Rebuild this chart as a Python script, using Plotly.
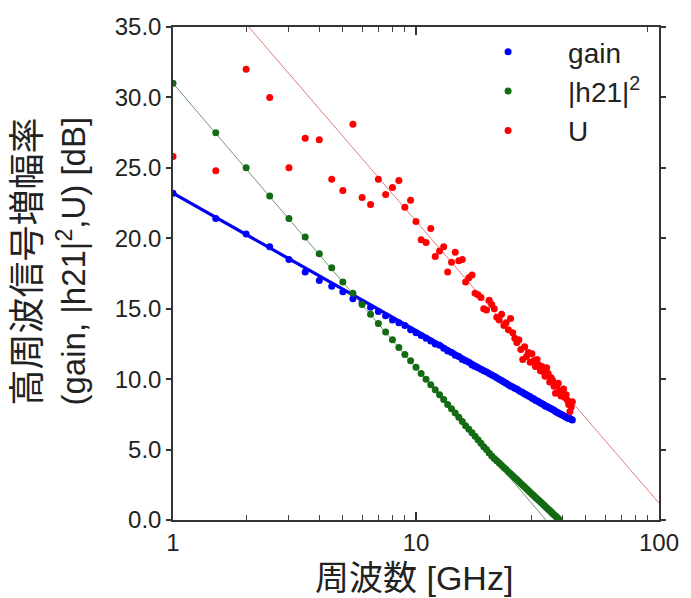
import math
import plotly.graph_objects as go

# Frequencies [GHz] (0.5 GHz steps, 1 .. 44 GHz)
freq = [1 + 0.5 * i for i in range(87)]

gain = [23.2, 21.4, 20.3, 19.4, 18.5, 17.6, 17.0, 16.6, 16.2, 15.7,
        15.4, 15.1, 14.8, 14.5, 14.2, 14.0, 13.8, 13.5, 13.3, 13.1,
        12.9, 12.7, 12.5, 12.4, 12.2, 12.0, 11.9, 11.7, 11.6, 11.4,
        11.3, 11.2, 11.0, 10.9, 10.8, 10.7, 10.6, 10.5, 10.4, 10.3,
        10.2, 10.1, 10.0, 9.9, 9.8, 9.7, 9.6, 9.5, 9.45, 9.35,
        9.3, 9.2, 9.1, 9.05, 8.95, 8.9, 8.8, 8.75, 8.65, 8.6,
        8.5, 8.45, 8.4, 8.3, 8.25, 8.2, 8.1, 8.05, 8.0, 7.95,
        7.9, 7.85, 7.8, 7.7, 7.65, 7.6, 7.55, 7.5, 7.45, 7.4,
        7.35, 7.3, 7.25, 7.2, 7.2, 7.15, 7.1]

h21 = [31.0, 27.5, 25.0, 23.0, 21.4, 20.1, 18.9, 17.9, 16.9, 16.1,
       15.3, 14.6, 13.95, 13.35, 12.8, 12.25, 11.75, 11.3, 10.85, 10.4,
       10.0, 9.6, 9.25, 8.9, 8.55, 8.2, 7.9, 7.6, 7.3, 7.0,
       6.7, 6.45, 6.2, 5.95, 5.7, 5.45, 5.2, 5.0, 4.75, 4.54,
       4.37, 4.21, 4.04, 3.89, 3.73, 3.58, 3.43, 3.29, 3.14, 3.0,
       2.87, 2.73, 2.6, 2.47, 2.34, 2.21, 2.09, 1.97, 1.85, 1.74,
       1.62, 1.51, 1.4, 1.29, 1.19, 1.08, 0.97, 0.87, 0.77, 0.67,
       0.56, 0.47, 0.37, 0.28, 0.19, 0.09, 0.0]

u_gain = [25.8, 24.8, 32.0, 30.0, 25.0, 27.1, 27.0, 24.2, 23.4, 28.1,
          22.9, 22.4, 24.2, 23.1, 23.6, 24.1, 22.2, 22.7, 21.2, 19.9,
          19.7, 20.7, 18.7, 19.1, 19.4, 17.6, 18.3, 19.0, 18.4, 18.5,
          16.9, 17.2, 17.4, 16.1, 16.0, 15.8, 15.0, 14.9, 15.6, 15.3,
          15.0, 14.4, 14.2, 14.6, 13.8, 14.0, 13.5, 14.3, 13.3, 12.9,
          12.6, 12.8, 12.1, 11.4, 12.3, 11.6, 11.9, 11.2, 11.8, 11.3,
          10.9, 11.4, 11.0, 10.6, 10.9, 10.5, 10.2, 10.8, 10.4, 9.8,
          10.1, 9.9, 9.5, 9.0, 9.6, 9.7, 9.2, 8.8, 9.0, 9.3,
          8.7, 8.9, 8.5, 8.2, 7.7, 8.0, 8.4]

# Fitted straight lines (dB = a - b*log10 f), drawn between two frequencies
fit_a = [23.2, 31.0, 41.24]
fit_b = [9.75, 20.2, 20.02]
fit_f0 = [1.0, 1.0, 1.0]
fit_f1 = [44.0, 40.0, 100.0]
fit_colors = ["#0000ee", "#6f9a6f", "#e07a7a"]
fit_widths = [3.2, 1, 1]

series_names = ["gain", "|h21|<sup>2</sup>", "U"]
series_colors = ["#0000ff", "#136b13", "#ff0000"]
series_values = [gain, h21, u_gain]

x_major = [1, 10, 100]
x_minor = [2, 3, 4, 5, 6, 7, 8, 9, 20, 30, 40, 50, 60, 70, 80, 90]

fig = go.Figure()

for a, b, f0, f1, c, w in zip(fit_a, fit_b, fit_f0, fit_f1, fit_colors, fit_widths):
    xs = [f0, f1]
    ys = [a - b * math.log10(v) for v in xs]
    fig.add_trace(go.Scatter(x=xs, y=ys, mode="lines",
                             line=dict(color=c, width=w),
                             showlegend=False, hoverinfo="skip"))

for name, col, vals in zip(series_names, series_colors, series_values):
    fig.add_trace(go.Scatter(x=freq[:len(vals)], y=vals, mode="markers", name=name,
                             marker=dict(color=col, size=7, line=dict(width=0))))

FONT = "Liberation Sans, Arial, Noto Sans CJK JP, sans-serif"

fig.update_layout(
    width=691, height=598,
    margin=dict(l=173, r=23, t=27, b=78),
    paper_bgcolor="white", plot_bgcolor="white",
    font=dict(family=FONT, size=24, color="#222222"),
    showlegend=True,
    legend=dict(x=0.566, y=1.0, xanchor="left", yanchor="top",
                bgcolor="white", borderwidth=0,
                font=dict(family=FONT, size=28, color="#222222"),
                itemwidth=110, tracegroupgap=0),
    xaxis=dict(type="log", range=[0, 2], tickmode="array", tickvals=x_major,
               ticktext=[str(v) for v in x_major],
               showline=True, linecolor="#333333", linewidth=1.5, mirror="ticks",
               ticks="inside", ticklen=8, tickwidth=1.5, tickcolor="#333333",
               showgrid=False, zeroline=False,
               tickfont=dict(size=24),
               minor=dict(tickmode="array", tickvals=x_minor, ticks="inside",
                          ticklen=5, tickwidth=1.3, tickcolor="#444444", showgrid=False)),
    yaxis=dict(range=[0, 35], dtick=5, tickformat=".1f",
               showline=True, linecolor="#333333", linewidth=1.5, mirror="ticks",
               ticks="outside", ticklen=5, tickwidth=1.5, tickcolor="#333333",
               showgrid=False, zeroline=False,
               tickfont=dict(size=24)),
    annotations=[
        dict(text="高周波信号増幅率", xref="paper", yref="paper", x=0, y=0.5,
             xanchor="center", yanchor="middle", xshift=-146, yshift=12,
             textangle=-90, showarrow=False, font=dict(family=FONT, size=36, color="#222222")),
        dict(text="(gain, |h21|<sup>2</sup>,U) [dB]", xref="paper", yref="paper", x=0, y=0.5,
             xanchor="center", yanchor="middle", xshift=-102, yshift=12,
             textangle=-90, showarrow=False, font=dict(family=FONT, size=33, color="#222222")),
        dict(text="周波数 [GHz]", xref="paper", yref="paper", x=0.5, y=0,
             xanchor="center", yanchor="middle", yshift=-58, xshift=-2,
             showarrow=False, font=dict(family=FONT, size=34, color="#222222")),
    ],
)

fig.write_html("out.html", config={"displayModeBar": False},
               post_script="document.body.style.margin='0px';")
